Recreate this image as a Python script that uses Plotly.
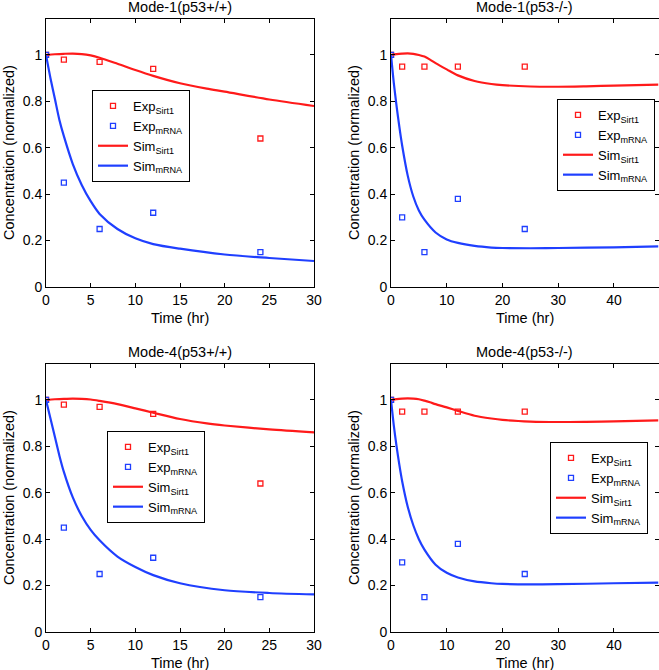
import plotly.graph_objects as go

# ---------------- data ----------------
exp_t = [0, 2, 6, 12, 24]

# Mode-1 (p53+/+)
m1wt_exp_sirt1 = [1.0, 0.98, 0.97, 0.94, 0.64]
m1wt_exp_mrna = [1.0, 0.45, 0.25, 0.32, 0.15]
m1wt_sim_t1 = [0, 1, 2, 3, 4, 5, 6, 8, 10, 12, 15, 18, 20, 25, 30]
m1wt_sim_sirt1 = [1.0, 1.003, 1.005, 1.006, 1.004, 0.998, 0.988, 0.962, 0.935, 0.91, 0.878, 0.855, 0.842, 0.808, 0.78]
m1wt_sim_t2 = [0, 0.5, 1, 1.5, 2, 3, 4, 5, 6, 8, 10, 12, 15, 20, 25, 30]
m1wt_sim_mrna = [1.0, 0.9, 0.81, 0.72, 0.65, 0.53, 0.44, 0.37, 0.315, 0.25, 0.21, 0.185, 0.165, 0.14, 0.125, 0.112]

# Mode-1 (p53-/-)
m1ko_exp_sirt1 = [1.0, 0.95, 0.95, 0.95, 0.95]
m1ko_exp_mrna = [1.0, 0.30, 0.15, 0.38, 0.25]
m1ko_sim_t1 = [0, 1, 2, 3, 4, 5, 6, 7, 8, 10, 12, 15, 18, 20, 25, 30, 35, 40, 48]
m1ko_sim_sirt1 = [1.0, 1.004, 1.006, 1.007, 1.005, 1.0, 0.993, 0.98, 0.965, 0.938, 0.912, 0.888, 0.875, 0.87, 0.864, 0.863, 0.865, 0.868, 0.872]
m1ko_sim_t2 = [0, 0.5, 1, 1.5, 2, 3, 4, 5, 6, 8, 10, 12, 15, 18, 20, 25, 30, 40, 48]
m1ko_sim_mrna = [1.0, 0.88, 0.78, 0.69, 0.61, 0.48, 0.39, 0.33, 0.29, 0.235, 0.205, 0.19, 0.177, 0.17, 0.168, 0.167, 0.168, 0.171, 0.175]

# Mode-4 (p53+/+)
m4wt_exp_sirt1 = [1.0, 0.98, 0.97, 0.94, 0.64]
m4wt_exp_mrna = [1.0, 0.45, 0.25, 0.32, 0.15]
m4wt_sim_t1 = [0, 1, 2, 3, 4, 5, 6, 8, 10, 12, 15, 18, 20, 25, 30]
m4wt_sim_sirt1 = [1.0, 1.003, 1.005, 1.006, 1.005, 1.002, 0.996, 0.982, 0.964, 0.945, 0.918, 0.899, 0.89, 0.873, 0.86]
m4wt_sim_t2 = [0, 0.5, 1, 1.5, 2, 3, 4, 5, 6, 8, 10, 12, 15, 20, 25, 30]
m4wt_sim_mrna = [1.0, 0.92, 0.84, 0.76, 0.69, 0.58, 0.5, 0.44, 0.395, 0.325, 0.28, 0.245, 0.21, 0.18, 0.168, 0.162]

# Mode-4 (p53-/-)
m4ko_exp_sirt1 = [1.0, 0.95, 0.95, 0.95, 0.95]
m4ko_exp_mrna = [1.0, 0.30, 0.15, 0.38, 0.25]
m4ko_sim_t1 = [0, 1, 2, 3, 4, 5, 6, 7, 8, 10, 12, 15, 18, 20, 25, 30, 35, 40, 48]
m4ko_sim_sirt1 = [1.0, 1.004, 1.006, 1.007, 1.006, 1.003, 0.997, 0.99, 0.982, 0.968, 0.953, 0.932, 0.92, 0.914, 0.907, 0.905, 0.906, 0.908, 0.912]
m4ko_sim_t2 = [0, 0.5, 1, 1.5, 2, 3, 4, 5, 6, 8, 10, 12, 15, 18, 20, 25, 30, 40, 48]
m4ko_sim_mrna = [1.0, 0.89, 0.8, 0.72, 0.65, 0.54, 0.46, 0.4, 0.355, 0.29, 0.255, 0.235, 0.218, 0.21, 0.207, 0.205, 0.206, 0.21, 0.213]

titles = ["Mode-1(p53+/+)", "Mode-1(p53-/-)", "Mode-4(p53+/+)", "Mode-4(p53-/-)"]
x_max = [30, 48, 30, 48]
x_dtick = [5, 10, 5, 10]

panels = [
    (m1wt_exp_sirt1, m1wt_exp_mrna, m1wt_sim_t1, m1wt_sim_sirt1, m1wt_sim_t2, m1wt_sim_mrna),
    (m1ko_exp_sirt1, m1ko_exp_mrna, m1ko_sim_t1, m1ko_sim_sirt1, m1ko_sim_t2, m1ko_sim_mrna),
    (m4wt_exp_sirt1, m4wt_exp_mrna, m4wt_sim_t1, m4wt_sim_sirt1, m4wt_sim_t2, m4wt_sim_mrna),
    (m4ko_exp_sirt1, m4ko_exp_mrna, m4ko_sim_t1, m4ko_sim_sirt1, m4ko_sim_t2, m4ko_sim_mrna),
]

# ---------------- layout ----------------
W, H = 659, 670
RED = "#ff1a1a"
BLUE = "#1f3fff"
FONT = "Liberation Sans, Arial, sans-serif"

# panel boxes in pixels (left, right, top, bottom)
boxes = [(46, 314, 19, 287), (391, 658.5, 19, 287), (46, 314, 364, 632), (391, 658.5, 364, 632)]
# legend anchor: (x px, y px, xanchor)
legend_pos = [(92, 90, "left"), (655, 99, "right"), (107, 431, "left"), (648, 442, "right")]

fig = go.Figure()
layout = dict(
    width=W, height=H, margin=dict(l=0, r=0, t=0, b=0, autoexpand=False),
    paper_bgcolor="white", plot_bgcolor="white",
    font=dict(family=FONT, size=14, color="black"),
    annotations=[],
)

for i, (es, em, t1, ss, t2, sm) in enumerate(panels):
    n = i + 1
    xa = "x" if n == 1 else f"x{n}"
    ya = "y" if n == 1 else f"y{n}"
    lg = "legend" if n == 1 else f"legend{n}"
    common = dict(xaxis=xa, yaxis=ya, legend=lg)
    fig.add_trace(go.Scatter(x=exp_t, y=es, mode="markers", name="Exp<sub>Sirt1</sub>",
                             marker=dict(symbol="square-open", size=5, color=RED, line=dict(width=1.3)),
                             **common))
    fig.add_trace(go.Scatter(x=exp_t, y=em, mode="markers", name="Exp<sub>mRNA</sub>",
                             marker=dict(symbol="square-open", size=5, color=BLUE, line=dict(width=1.3)),
                             **common))
    fig.add_trace(go.Scatter(x=t1, y=ss, mode="lines", name="Sim<sub>Sirt1</sub>",
                             line=dict(color=RED, width=2.2, shape="spline", smoothing=0.8),
                             **common))
    fig.add_trace(go.Scatter(x=t2, y=sm, mode="lines", name="Sim<sub>mRNA</sub>",
                             line=dict(color=BLUE, width=2.2, shape="spline", smoothing=0.8),
                             **common))

    l, r, t, b = boxes[i]
    axis_common = dict(showline=True, linecolor="black", linewidth=1, mirror="ticks",
                       ticks="inside", ticklen=4, tickcolor="black", showgrid=False,
                       zeroline=False, automargin=False, tickfont=dict(family=FONT, size=14))
    layout["xaxis" if n == 1 else f"xaxis{n}"] = dict(
        domain=[l / W, r / W], range=[0, x_max[i]], dtick=x_dtick[i], tick0=0,
        anchor=ya, **axis_common)
    layout["yaxis" if n == 1 else f"yaxis{n}"] = dict(
        domain=[1 - b / H, 1 - t / H], range=[0, 1.155], dtick=0.2, tick0=0,
        anchor=xa, **axis_common)

    lx, ly, lxa = legend_pos[i]
    layout[lg] = dict(x=lx / W, y=1 - ly / H, xanchor=lxa, yanchor="top",
                      bordercolor="black", borderwidth=1, bgcolor="white",
                      font=dict(family=FONT, size=13), tracegroupgap=0)

    cx = (l + r) / 2
    layout["annotations"].append(dict(
        text=titles[i], x=cx / W, y=1 - (t - 12) / H, xref="paper", yref="paper",
        showarrow=False, xanchor="center", yanchor="middle", font=dict(family=FONT, size=14.5)))
    layout["annotations"].append(dict(
        text="Time (hr)", x=cx / W, y=1 - (b + 31) / H, xref="paper", yref="paper",
        showarrow=False, xanchor="center", yanchor="middle", font=dict(family=FONT, size=14.5)))
    layout["annotations"].append(dict(
        text="Concentration (normalized)", x=(l - 37) / W, y=1 - ((t + b) / 2) / H,
        xref="paper", yref="paper", textangle=-90,
        showarrow=False, xanchor="center", yanchor="middle", font=dict(family=FONT, size=14.5)))

fig.update_layout(**layout)
fig.write_html("out.html", config={"displayModeBar": False},
               post_script="document.body.style.margin='0';document.body.style.overflow='hidden';")
